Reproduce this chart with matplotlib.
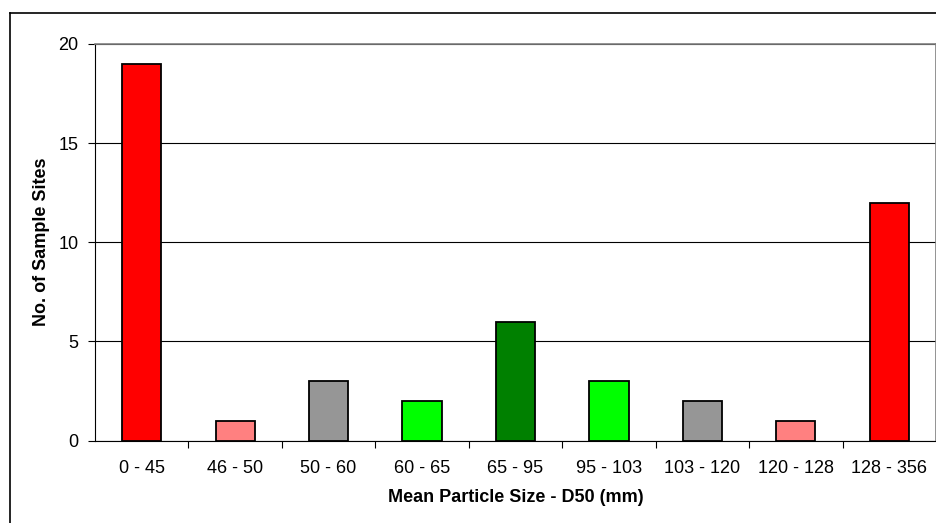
import matplotlib
matplotlib.use("Agg")
import matplotlib.pyplot as plt
from matplotlib.lines import Line2D

plt.rcParams['font.family'] = ['Liberation Sans', 'DejaVu Sans']

# Datos
rangos = ["0 - 45", "46 - 50", "50 - 60", "60 - 65", "65 - 95",
          "95 - 103", "103 - 120", "120 - 128", "128 - 356"]
sitios = [19, 1, 3, 2, 6, 3, 2, 1, 12]
colores = ["#FF0000", "#FF8080", "#969696", "#00FF00", "#008000",
           "#00FF00", "#969696", "#FF8080", "#FF0000"]
y_ticks = [0, 5, 10, 15, 20]

fig = plt.figure(figsize=(9.37, 5.23), dpi=100)
ax = fig.add_axes([95 / 937, 1 - 440.5 / 523, 841 / 937, 396.5 / 523])

x = list(range(len(rangos)))
ax.bar(x, sitios, width=0.42, color=colores, edgecolor="black", linewidth=1.3, zorder=3)

ax.set_xlim(-0.5, len(rangos) - 0.5)
ax.set_ylim(0, 20)
ax.set_yticks(y_ticks)
ax.set_yticklabels([str(v) for v in y_ticks], fontsize=13)
ax.yaxis.grid(True, color="black", linewidth=0.8, zorder=0)

# etiquetas del eje x entre marcas
ax.set_xticks([i + 0.5 for i in x[:-1]])
ax.set_xticklabels([])
ax.set_xticks(x, minor=True)
ax.set_xticklabels(rangos, minor=True, fontsize=13)
ax.tick_params(axis="x", which="minor", length=0, pad=14)
ax.tick_params(axis="x", which="major", length=5, direction="out")
ax.tick_params(axis="y", length=5, direction="out", pad=7)

ax.spines["top"].set_color("#808080")
ax.spines["right"].set_color("#808080")
ax.spines["top"].set_linewidth(1.2)
ax.spines["right"].set_linewidth(1.2)

ax.set_xlabel("Mean Particle Size - D50 (mm)", fontsize=13, fontweight="bold", labelpad=9)
ax.set_ylabel("No. of Sample Sites", fontsize=13, fontweight="bold", labelpad=6)

# marco exterior (cortado a la derecha y abajo)
fig.add_artist(Line2D([10 / 937, 10 / 937], [0, 1 - 13 / 523], color="black", lw=1.2))
fig.add_artist(Line2D([10 / 937, 1], [1 - 13 / 523, 1 - 13 / 523], color="black", lw=1.2))

fig.savefig("out.png", dpi=100)
